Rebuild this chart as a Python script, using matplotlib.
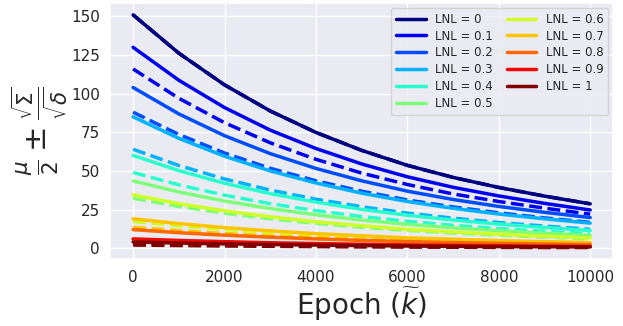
import matplotlib as mpl

mpl.use("Agg")

import matplotlib.pyplot as plt
import seaborn as sns

sns.set_theme(style="darkgrid")
plt.rcParams["font.family"] = ["DejaVu Sans"]
plt.rcParams["mathtext.fontset"] = "dejavusans"

EPOCHS = [0, 1000, 2000, 3000, 4000, 5000, 6000, 7000, 8000, 9000, 10000]
LNL = [0, 0.1, 0.2, 0.3, 0.4, 0.5, 0.6, 0.7, 0.8, 0.9, 1]

# upper bound (solid), one row per LNL value
UPPER = [
    [151, 126.2, 105.7, 88.8, 74.9, 63.3, 53.6, 45.8, 39.3, 33.7, 28.7],
    [130, 108.7, 91.0, 76.4, 64.5, 54.5, 46.2, 39.4, 33.8, 29.0, 24.7],
    [104, 86.9, 72.8, 61.2, 51.6, 43.6, 36.9, 31.5, 27.0, 23.2, 19.8],
    [85, 71.1, 59.5, 50.0, 42.2, 35.6, 30.2, 25.8, 22.1, 19.0, 16.2],
    [60, 50.2, 42.0, 35.3, 29.8, 25.1, 21.3, 18.2, 15.6, 13.4, 11.4],
    [43.5, 36.4, 30.5, 25.6, 21.6, 18.2, 15.4, 13.2, 11.3, 9.7, 8.3],
    [34.5, 28.8, 24.2, 20.3, 17.1, 14.5, 12.2, 10.5, 9.0, 7.7, 6.6],
    [19, 15.9, 13.3, 11.2, 9.4, 8.0, 6.7, 5.8, 4.9, 4.2, 3.6],
    [12, 10.0, 8.4, 7.1, 6.0, 5.0, 4.3, 3.6, 3.1, 2.7, 2.3],
    [6, 5.0, 4.2, 3.5, 3.0, 2.5, 2.1, 1.8, 1.6, 1.3, 1.1],
    [4, 3.3, 2.8, 2.4, 2.0, 1.7, 1.4, 1.2, 1.0, 0.9, 0.8],
]

# lower bound (dashed), one row per LNL value
LOWER = [
    [151, 126.2, 105.7, 88.8, 74.9, 63.3, 53.6, 45.8, 39.3, 33.7, 28.7],
    [116, 97.0, 81.2, 68.2, 57.5, 48.6, 41.2, 35.1, 30.2, 25.9, 22.0],
    [88, 73.6, 61.6, 51.7, 43.6, 36.9, 31.2, 26.7, 22.9, 19.6, 16.7],
    [64, 53.5, 44.8, 37.6, 31.7, 26.8, 22.7, 19.4, 16.6, 14.3, 12.2],
    [49, 41.0, 34.3, 28.8, 24.3, 20.5, 17.4, 14.8, 12.7, 10.9, 9.3],
    [32.3, 27.0, 22.6, 19.0, 16.0, 13.5, 11.5, 9.8, 8.4, 7.2, 6.1],
    [17.3, 14.5, 12.1, 10.2, 8.6, 7.2, 6.1, 5.2, 4.5, 3.9, 3.3],
    [13.5, 11.3, 9.5, 7.9, 6.7, 5.7, 4.8, 4.1, 3.5, 3.0, 2.6],
    [4.6, 3.8, 3.2, 2.7, 2.3, 1.9, 1.6, 1.4, 1.2, 1.0, 0.9],
    [3, 2.5, 2.1, 1.8, 1.5, 1.3, 1.1, 0.9, 0.8, 0.7, 0.6],
    [2, 1.7, 1.4, 1.2, 1.0, 0.8, 0.7, 0.6, 0.5, 0.4, 0.4],
]

cmap = plt.get_cmap("jet")

fig = plt.figure(figsize=(6.23, 3.26), dpi=100)
ax = fig.add_axes([0.177, 0.205, 0.807, 0.785])

for lnl, upper, lower in zip(LNL, UPPER, LOWER):
    color = cmap(float(lnl))
    # dashed first so a coinciding solid curve stays clean on top
    ax.plot(EPOCHS, lower, color=color, linewidth=2.5, linestyle="--")
    ax.plot(EPOCHS, upper, color=color, linewidth=2.5, label=f"LNL = {lnl:g}")

ax.set_xticks([0, 2000, 4000, 6000, 8000, 10000])
ax.set_yticks([0, 25, 50, 75, 100, 125, 150])
ax.tick_params(axis="both", labelsize=11, colors="#262626", pad=1.5)
ax.set_xlabel(r"Epoch ($\widetilde{k}$)", fontsize=20, color="#262626", labelpad=1)
ax.set_ylabel(
    r"$\frac{\mu}{2} \pm \frac{\sqrt{\Sigma}}{\sqrt{\delta}}$",
    fontsize=22,
    color="#262626",
    labelpad=1,
)

ax.legend(
    ncol=2,
    loc="upper right",
    fontsize=8.5,
    handlelength=2.5,
    columnspacing=1.2,
    labelspacing=0.33,
    borderaxespad=0.4,
)

fig.savefig("out.png", dpi=100)
